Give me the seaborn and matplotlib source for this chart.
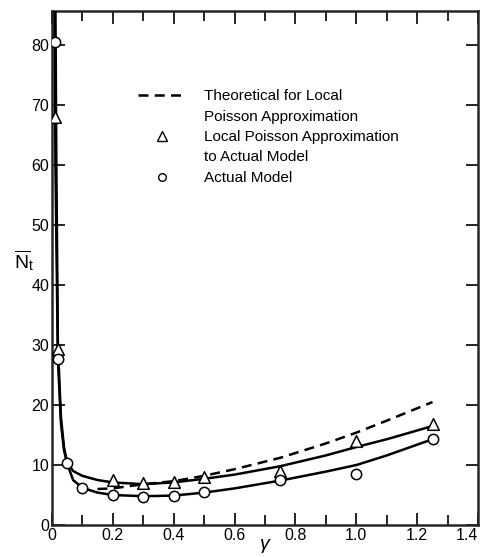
import matplotlib
matplotlib.use("Agg")
import matplotlib.pyplot as plt
from matplotlib.lines import Line2D
from matplotlib.ticker import MultipleLocator
import seaborn as sns
import pandas as pd

# ---- data ----
gamma_pts = [0.01, 0.02, 0.05, 0.1, 0.2, 0.3, 0.4, 0.5, 0.75, 1.0, 1.25]
actual_model = [80.5, 27.7, 10.3, 6.2, 5.0, 4.7, 4.9, 5.5, 7.5, 8.5, 14.3]

gamma_tri = [0.01, 0.02, 0.2, 0.3, 0.4, 0.5, 0.75, 1.0, 1.25]
local_poisson = [68.0, 29.3, 7.5, 7.0, 7.2, 8.0, 9.0, 14.0, 16.8]

# smooth fitted curves
curve_tri_x = [0.012, 0.015, 0.02, 0.03, 0.04, 0.05, 0.07, 0.1, 0.15, 0.2, 0.3,
               0.4, 0.5, 0.6, 0.75, 0.9, 1.0, 1.1, 1.25]
curve_tri_y = [86.0, 60.0, 30.0, 18.0, 13.0, 10.5, 9.0, 8.2, 7.5, 7.1, 6.8,
               7.1, 7.7, 8.4, 9.8, 11.6, 13.0, 14.3, 16.5]
curve_cir_x = [0.009, 0.012, 0.02, 0.03, 0.04, 0.05, 0.07, 0.1, 0.15, 0.2, 0.3,
               0.4, 0.5, 0.6, 0.75, 0.9, 1.0, 1.1, 1.25]
curve_cir_y = [86.0, 60.0, 27.7, 17.0, 12.5, 10.3, 7.5, 6.2, 5.4, 5.0, 4.8,
               4.9, 5.4, 6.1, 7.4, 8.9, 10.0, 11.6, 14.3]
theory_x = [0.15, 0.2, 0.3, 0.4, 0.5, 0.6, 0.75, 0.9, 1.0, 1.1, 1.25]
theory_y = [6.0, 6.1, 6.8, 7.3, 8.2, 9.3, 11.2, 13.6, 15.4, 17.4, 20.5]

x_major = [0, 0.2, 0.4, 0.6, 0.8, 1.0, 1.2, 1.4]
x_labels = ["0", "0.2", "0.4", "0.6", "0.8", "1.0", "1.2", "1.4"]
y_major = [0, 10, 20, 30, 40, 50, 60, 70, 80]

sns.set_style("ticks")
plt.rcParams["font.family"] = ["Liberation Sans", "DejaVu Sans"]
plt.rcParams["text.color"] = "black"
plt.rcParams["xtick.color"] = "black"
plt.rcParams["ytick.color"] = "black"
plt.rcParams["axes.labelcolor"] = "black"
plt.rcParams["mathtext.fontset"] = "custom"
plt.rcParams["mathtext.rm"] = "Liberation Sans"
plt.rcParams["mathtext.it"] = "Liberation Sans:italic"

fig = plt.figure(figsize=(4.84, 5.57), dpi=100)
ax = fig.add_axes([0.107, 0.0575, 0.881, 0.9225])

df_t = pd.DataFrame({"x": curve_tri_x, "y": curve_tri_y})
df_c = pd.DataFrame({"x": curve_cir_x, "y": curve_cir_y})
df_th = pd.DataFrame({"x": theory_x, "y": theory_y})
sns.lineplot(data=df_th, x="x", y="y", ax=ax, color="black", lw=1.8,
             linestyle=(0, (4, 2.5)), sort=False, zorder=2)
sns.lineplot(data=df_t, x="x", y="y", ax=ax, color="black", lw=1.8, sort=False, zorder=3)
sns.lineplot(data=df_c, x="x", y="y", ax=ax, color="black", lw=1.8, sort=False, zorder=3)

sns.scatterplot(x=gamma_tri, y=local_poisson, ax=ax, marker="^", s=70,
                facecolor="white", edgecolor="black", linewidth=1.1, zorder=5)
sns.scatterplot(x=gamma_pts, y=actual_model, ax=ax, marker="o", s=55,
                facecolor="white", edgecolor="black", linewidth=1.1, zorder=5)

ax.set_xlim(0, 1.4)
ax.set_ylim(0, 85.7)
ax.set_xticks(x_major)
ax.set_xticklabels(x_labels)
ax.set_yticks(y_major)
ax.xaxis.set_minor_locator(MultipleLocator(0.1))
ax.tick_params(axis="both", which="both", direction="in", top=True, right=True,
               width=1.2, labelsize=11.5, pad=2)
ax.tick_params(axis="both", which="major", length=9)
ax.tick_params(axis="x", which="minor", length=7)
for sp in ax.spines.values():
    sp.set_linewidth(1.8)
    sp.set_visible(True)
# keep the last x label inside the canvas, like the reference
ax.get_xticklabels()[-1].set_horizontalalignment("right")
ax.get_xticklabels()[-1].set_x(1.4)

ax.set_xlabel(r"$\mathit{\gamma}$", fontsize=14, labelpad=-4)
ax.set_ylabel(r"$\overline{\mathrm{N}}_{\mathrm{t}}$", fontsize=14, rotation=0)
ax.yaxis.set_label_coords(-0.065, 0.49)

blank = Line2D([], [], linestyle="none")
handles = [
    Line2D([], [], color="black", lw=1.8, linestyle=(0, (4, 2.5))),
    blank,
    Line2D([], [], color="black", marker="^", markersize=7, markerfacecolor="white",
           markeredgewidth=1.0, linestyle="none"),
    blank,
    Line2D([], [], color="black", marker="o", markersize=5.5, markerfacecolor="white",
           markeredgewidth=1.0, linestyle="none"),
]
labels = ["Theoretical for Local", "Poisson Approximation",
          "Local Poisson Approximation", "to Actual Model",
          "Actual Model"]
ax.legend(handles, labels, loc="upper left", bbox_to_anchor=(0.202, 0.848),
          frameon=False, fontsize=11, handlelength=3.1, handletextpad=1.2,
          labelspacing=0.42, borderaxespad=0, borderpad=0)

fig.savefig("out.png", dpi=100)
